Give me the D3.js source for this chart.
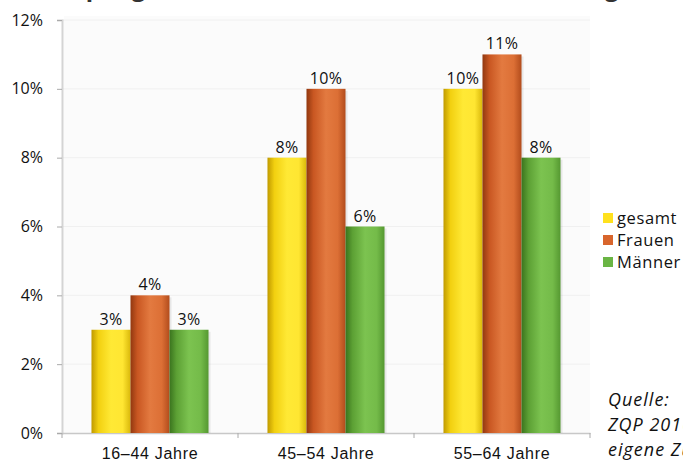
<!DOCTYPE html>
<html>
<head>
<meta charset="utf-8">
<script src="https://cdn.jsdelivr.net/npm/d3@7"></script>
<style>
  body { margin: 0; background: #fff; }
  svg { display: block; font-family: "Open Sans", sans-serif; }
</style>
</head>
<body>
<div id="chart"></div>
<script>
// data
var categories = ["16–44 Jahre", "45–54 Jahre", "55–64 Jahre"];
var seriesNames = ["gesamt", "Frauen", "Männer"];
var gesamt = [3, 8, 10];
var frauen = [4, 10, 11];
var maenner = [3, 6, 8];
var yTicks = [0, 2, 4, 6, 8, 10, 12];
var titleText = "Anteil pflegender Personen unter den Erwerbstätigen";
var sourceLines = ["Quelle:", "ZQP 2016,", "eigene Zusammenstellung"];

var width = 683, height = 464;
var plot = {left: 62, right: 590, top: 20, bottom: 433};

var svg = d3.select("#chart").append("svg")
    .attr("width", width)
    .attr("height", height);

var defs = svg.append("defs");
var palette = [
  ["#c09a00", "#f2d010", "#ffe935", "#ffe632", "#d9b80a"],
  ["#923810", "#c95722", "#e37a40", "#dc6f35", "#b24c1c"],
  ["#3a741e", "#5ca034", "#7cc350", "#74bb49", "#559831"]
];
palette.forEach(function(p, i) {
  var g = defs.append("linearGradient")
      .attr("id", "grad" + i)
      .attr("x1", "0").attr("x2", "1").attr("y1", "0").attr("y2", "0");
  [0, 0.18, 0.5, 0.8, 1].forEach(function(o, j) {
    g.append("stop").attr("offset", o).attr("stop-color", p[j]);
  });
});
var legendColors = ["#ffe11e", "#d8652c", "#6ab544"];

// title, cut off at the top like in the picture
svg.append("text")
    .attr("x", 8)
    .attr("y", -4)
    .attr("font-size", "24px")
    .attr("font-weight", "bold")
    .attr("fill", "#333")
    .text(titleText);

var x0 = d3.scaleBand()
    .domain(categories)
    .range([plot.left, plot.right])
    .paddingInner(0.335)
    .paddingOuter(0.1675);

var x1 = d3.scaleBand()
    .domain(seriesNames)
    .range([0, x0.bandwidth()]);

var y = d3.scaleLinear()
    .domain([0, 12])
    .range([plot.bottom, plot.top]);

// faint wall and grid
svg.append("rect")
    .attr("x", plot.left + 2).attr("y", plot.top - 4)
    .attr("width", plot.right - plot.left - 2)
    .attr("height", plot.bottom - plot.top + 4)
    .attr("fill", "#fbfbfb");

svg.append("g")
  .selectAll("line")
  .data(yTicks.slice(1))
  .enter().append("line")
    .attr("x1", plot.left).attr("x2", plot.right)
    .attr("y1", d => y(d)).attr("y2", d => y(d))
    .attr("stroke", "#f0f0f0");

// y axis
var yAxis = svg.append("g")
    .attr("transform", "translate(" + plot.left + ",0)")
    .call(d3.axisLeft(y).tickValues(yTicks).tickSize(5).tickPadding(14)
      .tickFormat(d => d + "%"));
yAxis.select(".domain").attr("stroke", "#d4d4d4").attr("stroke-width", 2);
yAxis.selectAll(".tick line").attr("stroke", "#aaa");
yAxis.selectAll(".tick text").attr("font-size", "16px").attr("fill", "#111")
    .attr("font-family", "Open Sans");

// x axis
var xAxis = svg.append("g")
    .attr("transform", "translate(0," + plot.bottom + ")")
    .call(d3.axisBottom(x0).tickSize(0).tickPadding(15));
xAxis.select(".domain").attr("stroke", "#c8c8c8").attr("stroke-width", 1.5);
xAxis.selectAll(".tick text").attr("font-size", "16px").attr("fill", "#111")
    .attr("letter-spacing", "0.7px");
var sep = x0.step();
svg.append("g")
  .selectAll("line")
  .data(d3.range(categories.length + 1))
  .enter().append("line")
    .attr("x1", d => plot.left + d * sep)
    .attr("x2", d => plot.left + d * sep)
    .attr("y1", plot.bottom).attr("y2", plot.bottom + 5)
    .attr("stroke", "#aaa");

// bars
var seriesValues = [gesamt, frauen, maenner];
var rows = [];
categories.forEach(function(c, ci) {
  seriesNames.forEach(function(s, si) {
    rows.push({cat: c, series: s, si: si, value: seriesValues[si][ci]});
  });
});

var bars = svg.append("g");
bars.selectAll("rect.shadow")
  .data(rows)
  .enter().append("rect")
    .attr("class", "shadow")
    .attr("x", d => x0(d.cat) + x1(d.series) + 2)
    .attr("y", d => y(d.value) + 2)
    .attr("width", x1.bandwidth())
    .attr("height", d => y(0) - y(d.value) - 2)
    .attr("fill", "#000")
    .attr("opacity", 0.08);

bars.selectAll("rect.bar")
  .data(rows)
  .enter().append("rect")
    .attr("class", "bar")
    .attr("x", d => x0(d.cat) + x1(d.series))
    .attr("y", d => y(d.value))
    .attr("width", x1.bandwidth())
    .attr("height", d => y(0) - y(d.value))
    .attr("fill", d => "url(#grad" + d.si + ")");

bars.selectAll("text")
  .data(rows)
  .enter().append("text")
    .attr("x", d => x0(d.cat) + x1(d.series) + x1.bandwidth() / 2)
    .attr("y", d => y(d.value) - 5)
    .attr("text-anchor", "middle")
    .attr("font-size", "16px")
    .attr("letter-spacing", "0.4px")
    .attr("fill", "#111")
    .text(d => d.value + "%");

// legend
var legend = svg.append("g")
    .attr("transform", "translate(603,213)");
seriesNames.forEach(function(s, i) {
  legend.append("rect")
      .attr("x", 0).attr("y", i * 22)
      .attr("width", 10).attr("height", 10)
      .attr("fill", legendColors[i]);
  legend.append("text")
      .attr("x", 14).attr("y", i * 22 + 11)
      .attr("font-size", "16.5px")
      .attr("letter-spacing", "0.6px")
      .attr("fill", "#111")
      .text(s);
});

// source note (runs off the right edge like in the picture)
svg.append("g")
  .selectAll("text")
  .data(sourceLines)
  .enter().append("text")
    .attr("x", 608)
    .attr("y", (d, i) => 406 + i * 25)
    .attr("font-size", "18px")
    .attr("letter-spacing", "1px")
    .attr("font-style", "italic")
    .attr("fill", "#111")
    .text(d => d);
</script>
</body>
</html>
